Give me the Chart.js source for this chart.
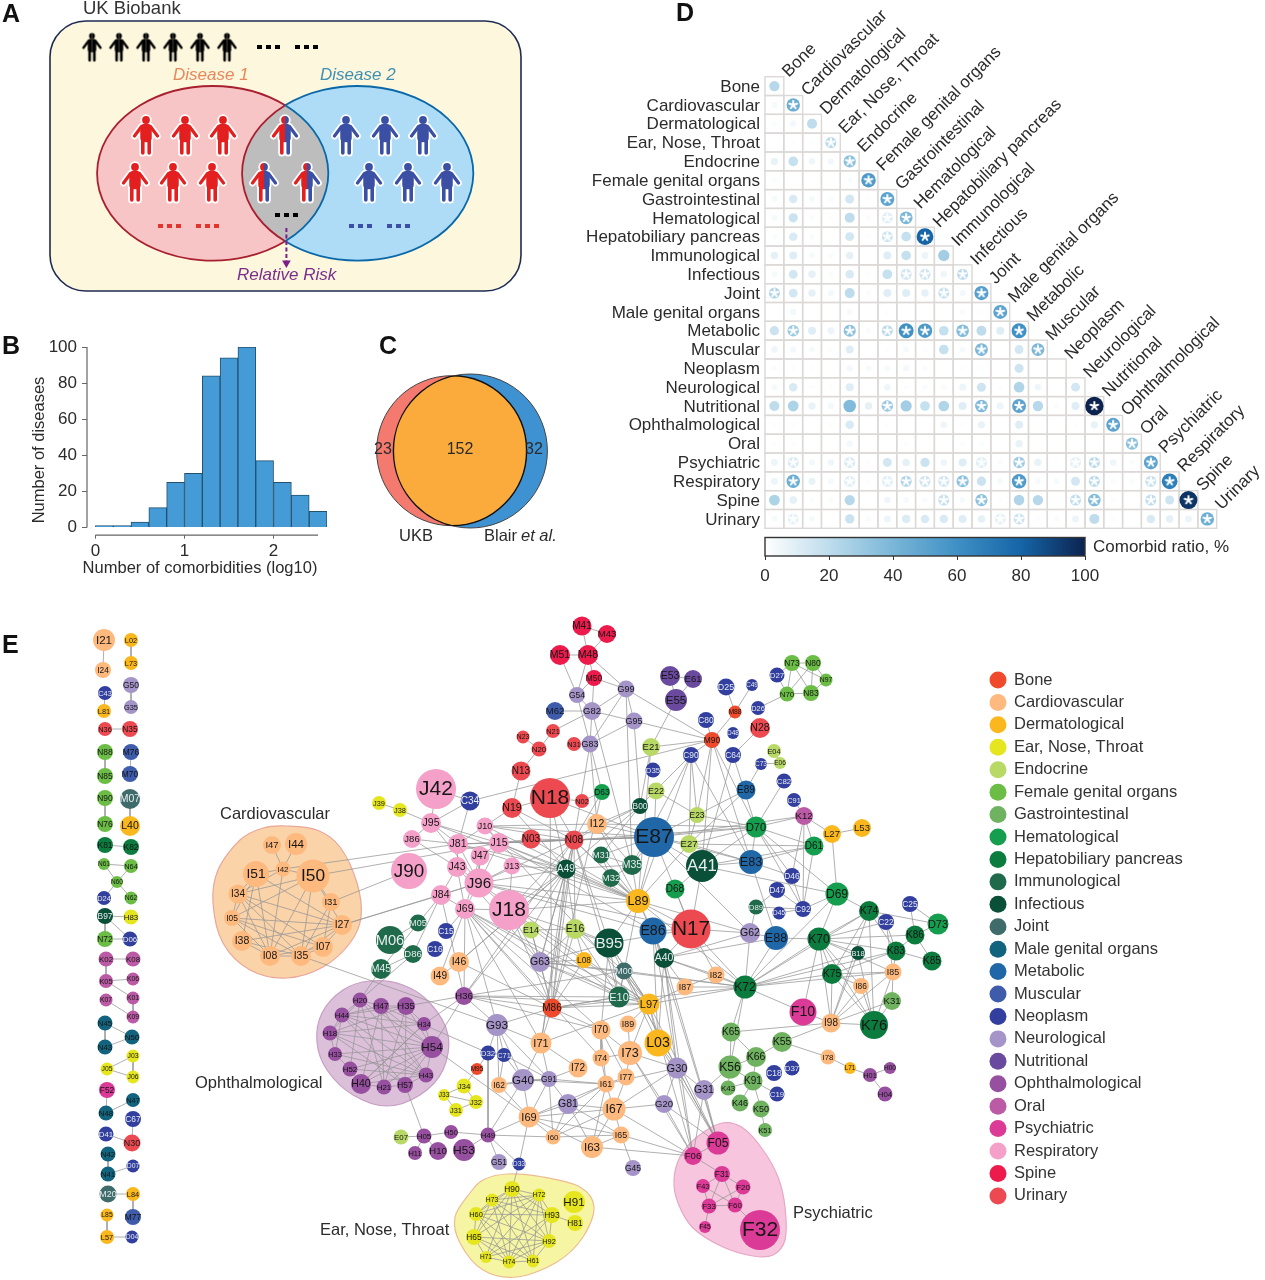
<!DOCTYPE html>
<html>
<head>
<meta charset="utf-8">
<title>Comorbidity figure</title>
<script src="https://cdn.jsdelivr.net/npm/chart.js@4/dist/chart.umd.min.js"></script>
<style>
  html, body { margin: 0; background: #fff; }
  #page { position: relative; width: 1265px; height: 1280px; overflow: hidden; }
  #page canvas { position: absolute; }
</style>
</head>
<body>
<div id="page"></div>
<script>
const FONT = '"Liberation Sans", Arial, sans-serif';
const INK = '#2b2b2b';

// ---- Panel A ----
const generalPeople = [[92,47],[119,47],[146,47],[173,47],[200,47],[227,47]];
const disease1People = [[146,135],[185,135],[223,135],[135,182],[173,182],[212,182]];
const disease2People = [[346,135],[385,135],[423,135],[369,182],[408,182],[447,182]];
const bothPeople = [[285,135],[264,182],[307,182]];

// ---- Panel B ----
const binCenters = [0.1,0.3,0.5,0.7,0.9,1.1,1.3,1.5,1.7,1.9,2.1,2.3,2.5];
const binCounts = [1,1,3,11,25,30,84,94,100,37,25,18,9];
const histXTicks = [0,1,2];
const histYTicks = [0,20,40,60,80,100];

// ---- Panel C ----
const vennCounts = [23,152,32];
const vennCircles = [[451.6,450.7,75],[470.4,451,77]];

// ---- Panel D ----
const systems = ['Bone','Cardiovascular','Dermatological','Ear, Nose, Throat','Endocrine','Female genital organs','Gastrointestinal','Hematological','Hepatobiliary pancreas','Immunological','Infectious','Joint','Male genital organs','Metabolic','Muscular','Neoplasm','Neurological','Nutritional','Ophthalmological','Oral','Psychiatric','Respiratory','Spine','Urinary'];
const comorbidRatio = [
  [22],
  [3,45],
  [2,4,20],
  [0,1,1,22],
  [7,18,5,4,35],
  [2,0,0,0,2,55],
  [3,12,3,2,14,1,50],
  [3,16,2,1,20,2,10,40],
  [2,12,2,0,14,1,16,18,80],
  [8,10,3,2,8,0,10,18,6,28],
  [3,14,8,2,12,1,18,15,15,5,22],
  [25,14,8,4,20,2,10,10,8,18,4,52],
  [0,4,0,0,3,0,1,0,0,0,2,1,50],
  [16,30,10,6,35,2,22,60,55,18,38,20,10,60],
  [5,4,3,1,10,0,1,3,1,18,3,40,0,14,40],
  [2,1,1,0,4,3,3,4,2,0,1,1,0,15,0,0],
  [3,12,1,1,10,0,5,1,2,2,6,15,1,24,5,0,14],
  [20,25,7,4,38,8,30,28,18,24,10,38,6,50,22,2,10,100],
  [1,1,0,1,12,0,1,0,0,5,1,7,0,10,0,0,1,7,50],
  [1,1,0,0,4,0,0,1,0,0,1,1,0,7,0,0,0,0,0,35],
  [6,12,4,5,12,1,14,8,16,5,10,10,2,30,7,1,8,22,5,2,50],
  [6,45,7,3,10,1,10,25,15,15,35,16,3,55,3,3,14,22,2,2,18,68],
  [25,8,2,2,22,0,5,3,2,18,3,35,1,24,22,0,20,38,1,0,20,15,95],
  [3,8,3,0,16,2,6,11,12,12,10,8,8,16,1,2,6,20,1,0,12,8,6,45]
];
// columns with an asterisk, per row
const significantCols = [
  [],[1],[],[3],[4],[5],[6],[6,7],[6,8],[],[7,8,10],[0,9,11],[12],[1,4,6,7,8,10,13],[11,14],[],[],
  [6,11,13,17],[18],[19],[1,4,11,13,16,17,20],[1,4,6,7,8,9,10,13,17,20,21],[9,11,16,17,20,22],[1,12,13,23]
];
const ratioStops = [[0,'#ffffff'],[20,'#bedcec'],[40,'#7ab6d8'],[60,'#3f90c5'],[80,'#1565a7'],[100,'#0c2350']];
const ratioTicks = [0,20,40,60,80,100];

// ---- Panel E: nodes as [code, x, y, radius] ----
const boneNodes = [['M86',552,1008,9.5],['M90',712,740,8],['M88',735,712,6.5],['M95',477,1069,6]];
const cardioNodes = [['I21',104,640,11],['I24',103,670,8],['I47',272,845,9],['I44',296,844,11],['I42',283,869,7.5],['I51',256,874,13],['I50',313,876,16.5],['I34',238,894,9.5],['I31',331,902,9],['I05',232,918,8],['I27',342,925,10],['I38',242,941,10],['I08',270,956,10],['I35',301,956,10],['I07',323,947,10],['I46',459,962,10],['I49',440,976,9.5],['I12',597,824,10],['I82',716,975,8.5],['I85',893,972,8.5],['I86',861,986,8],['I87',685,987,8.5],['I89',628,1024,8.5],['I98',831,1023,9.5],['I70',601,1030,9.5],['I71',541,1043,10.5],['I72',578,1068,9.5],['I73',630,1053,12],['I74',601,1058,8.5],['I77',626,1077,8.5],['I78',828,1057,7.5],['I61',606,1084,8.5],['I62',499,1085,8],['I63',592,1147,11],['I65',621,1135,8.5],['I67',614,1109,11.5],['I69',529,1117,10.5],['I60',553,1137,7.5]];
const dermNodes = [['L02',131,640,7],['L73',131,663,7],['L81',104,711,7],['L40',130,826,10],['L84',133,1194,7],['L85',107,1215,6.5],['L57',107,1237,7],['L08',584,960,8],['L03',658,1043,13.5],['L27',832,834,9],['L53',862,828,9],['L71',850,1068,6],['L89',638,901,12],['L97',649,1004,10.5]];
const entNodes = [['H83',131,917,7.5],['J03',133,1056,6.5],['J05',107,1069,6.5],['J06',133,1077,6.5],['J31',456,1110,7],['J32',476,1102,7],['J33',444,1095,6],['J34',464,1086,7.5],['J38',400,810,7],['J39',379,803,7],['H90',512,1189,8],['H72',539,1195,6.5],['H73',492,1200,6.5],['H91',574,1202,11],['H93',552,1215,8],['H60',476,1214,7],['H81',575,1223,8],['H65',474,1237,8],['H92',549,1241,7],['H71',486,1257,6],['H74',509,1262,6.5],['H61',533,1261,6.5]];
const endocrineNodes = [['E04',774,751,7],['E06',780,763,6],['E07',401,1137,7.5],['E14',531,930,8.5],['E16',575,929,10],['E21',651,747,9],['E22',656,791,8.5],['E23',697,815,8],['E27',689,844,9]];
const femaleNodes = [['N60',117,882,6],['N61',104,864,6],['N62',131,898,6.5],['N64',131,866,7],['N70',787,694,7.5],['N72',105,939,8],['N73',792,663,8],['N76',105,824,8],['N80',813,663,8],['N83',811,693,8],['N85',105,776,8],['N88',105,752,8],['N90',105,798,8],['N97',826,680,6.5]];
const giNodes = [['K31',892,1001,9],['K43',728,1088,7.5],['K46',740,1103,8.5],['K50',761,1109,8.5],['K51',765,1130,7],['K55',782,1042,10],['K56',730,1067,11.5],['K65',731,1032,9.5],['K66',756,1057,10],['K91',753,1081,9.5]];
const hemaNodes = [['D61',814,846,9.5],['D63',602,792,8],['D68',675,889,9.5],['D69',837,894,11.5],['D70',756,827,10.5],['D73',938,924,10.5]];
const hepatoNodes = [['K70',819,939,11.5],['K72',745,987,11.5],['K74',869,911,10],['K75',832,974,10],['K76',874,1025,14],['K81',105,845,8],['K82',131,847,8],['K83',896,951,9.5],['K85',932,961,9.5],['K86',915,935,9.5]];
const immunoNodes = [['M05',418,923,8.5],['M06',390,940,14],['M31',601,855,8.5],['M32',611,878,9],['M35',632,865,10],['M45',381,969,10],['D86',413,954,9],['D89',756,907,7.5],['E10',619,997,10.5]];
const infectiousNodes = [['A40',664,958,10],['A41',702,866,16],['A49',566,869,9.5],['B00',640,806,8],['B18',858,953,7],['B95',609,943,14.5],['B97',105,916,8]];
const jointNodes = [['M00',624,971,8.5],['M07',130,799,10],['M20',108,1194,8.5]];
const maleNodes = [['N41',108,1174,7.5],['N42',108,1154,7.5],['N43',105,1047,7.5],['N45',105,1023,7.5],['N47',133,1100,7],['N48',106,1113,7.5],['N50',132,1037,7.5]];
const metabolicNodes = [['E83',751,862,12],['E86',653,931,13.5],['E87',654,837,20],['E88',776,938,12],['E89',746,790,9.5]];
const muscularNodes = [['M62',555,711,9],['M70',130,774,8],['M76',131,752,8],['M77',133,1217,8]];
const neoplasmNodes = [['C15',446,931,8],['C16',435,949,8],['C18',774,1073,8],['C19',777,1094,7.5],['C22',886,922,8],['C25',910,904,8],['C34',470,801,9.5],['C43',105,693,7],['C49',752,685,6],['C64',733,755,8],['C67',133,1119,8],['C71',504,1055,7],['C73',761,764,6],['C80',706,720,8],['C82',784,781,7.5],['C90',691,755,8],['C91',794,800,7],['C92',803,909,8],['D04',132,1237,6.5],['D06',130,939,7.5],['D07',133,1166,6.5],['D24',104,898,7],['D25',726,687,8.5],['D26',758,708,7],['D27',777,675,7.5],['D32',488,1053,7.5],['D33',519,1164,6.5],['D35',653,770,7.5],['D37',792,1068,7.5],['D41',106,1134,7.5],['D45',779,913,6.5],['D46',792,876,8],['D47',777,890,8],['D48',733,733,6]];
const neuroNodes = [['G20',664,1104,9],['G30',677,1068,10.5],['G31',704,1090,10],['G35',131,707,7],['G40',523,1080,11],['G45',633,1168,8],['G50',131,685,8],['G51',499,1162,8],['G54',577,695,8],['G62',750,933,10],['G63',540,962,10],['G81',568,1104,10],['G82',592,711,9],['G83',590,744,8.5],['G91',549,1079,8],['G93',497,1025,11],['G95',634,721,8.5],['G99',626,689,8.5]];
const nutritionalNodes = [['E53',670,676,10],['E55',676,700,11],['E61',693,679,9]];
const ophthNodes = [['H00',890,1068,6],['H01',870,1075,7],['H04',885,1094,7.5],['H05',424,1136,7.5],['H10',438,1151,9],['H11',415,1153,7],['H18',330,1033,7.5],['H20',360,1000,7.5],['H21',384,1087,7.5],['H33',335,1054,7],['H34',424,1024,7],['H35',406,1006,9],['H36',464,996,9],['H40',361,1084,10],['H43',426,1075,7.5],['H44',342,1015,7.5],['H47',381,1006,8],['H49',488,1135,7.5],['H50',451,1132,7],['H52',350,1069,7.5],['H53',464,1150,11],['H54',432,1047,11],['H57',405,1085,8]];
const oralNodes = [['K01',133,998,6.5],['K02',106,959,7.5],['K05',106,981,7],['K06',133,979,6.5],['K07',106,1000,6.5],['K08',133,959,7.5],['K09',133,1017,6.5],['K12',804,816,9]];
const psychNodes = [['F05',718,1143,11.5],['F06',693,1156,9],['F10',803,1012,13.5],['F20',743,1187,7.5],['F31',722,1174,8],['F32',760,1230,20],['F33',709,1206,7.5],['F43',703,1186,7],['F45',705,1227,6],['F52',107,1090,8],['F60',735,1205,7.5]];
const respNodes = [['J10',485,826,8.5],['J13',512,866,8.5],['J15',499,843,10],['J18',509,910,20],['J42',436,789,20],['J43',457,867,10],['J47',480,856,9.5],['J69',465,909,10],['J81',458,844,10],['J84',441,895,10],['J86',412,839,9],['J90',409,871,18],['J95',431,823,10],['J96',479,883,14.5]];
const spineNodes = [['M41',582,626,9.5],['M43',607,634,9],['M48',588,655,10],['M50',594,678,8],['M51',560,655,10]];
const urinaryNodes = [['N02',582,801,7],['N03',531,839,9.5],['N08',574,840,9.5],['N13',521,771,9.5],['N17',691,929,19.5],['N18',550,798,20],['N19',512,808,10],['N20',539,749,7.5],['N21',553,731,7],['N23',523,737,6.5],['N28',760,728,10],['N30',132,1143,8.5],['N31',574,744,7],['N35',130,729,8],['N36',105,729,7]];

const groupNames = ['Bone','Cardiovascular','Dermatological','Ear, Nose, Throat','Endocrine','Female genital organs','Gastrointestinal','Hematological','Hepatobiliary pancreas','Immunological','Infectious','Joint','Male genital organs','Metabolic','Muscular','Neoplasm','Neurological','Nutritional','Ophthalmological','Oral','Psychiatric','Respiratory','Spine','Urinary'];
const groupColors = ['#ef4a2c','#fdb97e','#fbb81e','#e6e620','#b9d967','#6bbd45','#6fb25f','#159e4e','#0c7c3e','#1f6a4a','#0a4f38','#3f6b6a','#12647e','#2067a8','#3f5cab','#323f9f','#a594c8','#6a4a9f','#96509f','#bb5aa5','#db3a96','#f5a0c8','#ec1b4b','#ec4a50'];
const groupNodes = [boneNodes,cardioNodes,dermNodes,entNodes,endocrineNodes,femaleNodes,giNodes,hemaNodes,hepatoNodes,immunoNodes,infectiousNodes,jointNodes,maleNodes,metabolicNodes,muscularNodes,neoplasmNodes,neuroNodes,nutritionalNodes,ophthNodes,oralNodes,psychNodes,respNodes,spineNodes,urinaryNodes];
const lightLabelGroups = ['Immunological','Infectious','Joint','Neoplasm'];

// ---- Panel E: edges ----
const columnEdges = 'I21-I24 L02-L73 G50-G35 C43-L81 N36-N35 N88-N85 M76-M70 N90-N76 M07-L40 K81-K82 N61-N64 N61-N60 N64-N60 N60-N62 N60-D24 B97-H83 B97-D06 B97-N72 N72-D06 K02-K08 K02-K05 K05-K06 K05-K01 K01-K09 K07-K09 N45-N50 N45-N43 N43-N50 J03-J05 J03-J06 J05-J06 F52-N48 N47-N48 C67-N30 D41-N30 N42-N41 N41-D07 M20-L84 L84-M77 L85-L57 L57-D04'.split(' ');
const cardioEdges = 'I47-I42 I44-I42 I42-I51 I42-I50 I51-I34 I51-I05 I34-I27 I34-I07 I34-I35 I34-I08 I34-I50 I51-I08 I51-I38 I51-I27 I05-I27 I05-I07 I05-I35 I05-I08 I05-I50 I38-I08 I38-I35 I08-I50 I08-I35 I08-I07 I08-I27 I08-I42 I35-I50 I35-I07 I35-I27 I07-I27 I07-I31 I31-I50 I31-I35 I27-I50 I34-I42 I05-I34 I38-I27 I42-J81 I50-J15 I31-J90 I27-J84 I27-J96 I35-G93'.split(' ');
const ophthEdges = 'H20-H44 H20-H47 H20-H18 H20-H54 H20-H52 H20-H43 H20-H21 H47-H35 H47-H44 H47-H54 H47-H40 H47-H21 H47-H43 H35-H34 H35-H54 H35-H44 H35-H18 H35-H57 H35-H21 H44-H18 H44-H54 H44-H33 H44-H43 H44-H57 H44-H34 H34-H54 H34-H18 H34-H40 H18-H33 H18-H54 H18-H43 H18-H57 H33-H52 H33-H54 H33-H43 H52-H40 H52-H54 H52-H43 H40-H21 H40-H54 H40-H43 H40-H34 H21-H57 H21-H54 H57-H43 H57-H54 H43-H54 H20-M45 H20-D86 H35-H36 H34-H36 H57-H05 H54-I69 H54-H36 H47-D32'.split(' ');
const entEdges = 'H90-H72 H90-H73 H90-H60 H90-H65 H90-H93 H90-H92 H90-H74 H90-H71 H90-H61 H72-H73 H72-H93 H72-H60 H72-H65 H72-H92 H72-H74 H72-H61 H72-H71 H73-H60 H73-H65 H73-H93 H73-H92 H73-H74 H73-H61 H60-H65 H60-H92 H60-H61 H60-H74 H60-H93 H65-H71 H65-H74 H65-H61 H65-H92 H71-H74 H71-H92 H71-H93 H74-H61 H74-H92 H74-H93 H61-H92 H92-H93 H93-H81 D33-H90'.split(' ');
const psychEdges = 'F05-F06 F06-F31 F31-F43 F31-F20 F31-F33 F31-F60 F43-F33 F20-F60 F20-F33 F33-F60 F33-F45 F60-F32 F43-F60 G30-F05 G30-F06 L03-F05 L97-F05 L97-F06 G31-F05 G31-F06 G20-F06 G20-F05 I67-F06 I65-F06 I63-F06 I73-F06 M00-F05 E86-F05 A40-F05 A40-F06 G45-I65'.split(' ');
const respEdges = 'J39-J38 J38-J95 J95-J86 J95-J42 J95-C34 J95-J81 J95-J15 J86-J81 J81-J10 J81-J15 J81-J43 J43-J96 J81-J96 J10-J15 J15-J47 J15-J96 J47-J96 J13-J96 J96-J18 J96-J84 J96-J69 J43-J84 J84-J69 J69-J18 J84-D86 J84-M45 C34-J42 C34-J81 J86-J43 J47-J69 J43-J69 J15-N03 J15-A49 J13-A49 J13-J18 J96-A49 J96-N08 J81-N08 J10-N08 J15-N08 J10-N19 M06-M05 M06-D86 D86-M45 C15-J69 I46-I49 H36-J69 H36-I70'.split(' ');
const upperEdges = 'M41-M43 M41-M48 M43-M48 M51-M48 M51-G54 M48-M50 M48-G54 M48-G99 M50-G54 M50-G82 M50-G99 G54-G82 G99-G82 G99-G95 G99-G83 G99-M90 G99-M35 G82-M62 G82-G95 G82-G83 G82-N21 G82-M35 G95-G83 G95-M90 G95-B00 G83-N31 G83-I12 G83-N08 G83-D63 G54-G83 N21-N20 N23-N20 N20-N13 N13-N19 N19-N18 N18-N02 N18-N08 N02-D63 E53-E55 E61-E55 E53-E61 E55-E21 D25-M88 C49-M88 M88-M90 C80-M90 D26-N70 D27-N73 N73-N80 N73-N70 N73-N83 N80-N83 N80-N97 N80-N70 N97-N83 N70-N83 N97-N73 D27-N70 M90-E21 M90-C90 M90-C34 M90-E23 M90-D70 M90-E83 M90-A41 C64-N28 C64-D70 C64-A41 C73-E89 E04-E06 C73-E06 C82-D70 C91-K12 K12-D70 K12-L27 L27-L53 L27-D69 K12-D61 K12-C92 K12-D46 D61-D70 D61-A41 D61-E83 D61-E27 D61-C92 D46-D70 D46-C92 D46-E83 D70-E27 D70-A41 D70-E23 D70-E83 D70-E87 D70-D69 D70-C92 E23-E27 E23-E87 E23-C90 E23-E22 E23-E89 E27-E87 E27-E83 E27-L89 E22-E87 E21-L89 E21-B00 C90-E83 C90-E27 C90-B00 C90-M35 C90-L89 E89-E27 A41-E87 A41-E83 A41-D69 A41-N17 E87-L89 E87-I12 E87-N08 E87-M35 E87-M31 E87-N17 E87-G62 E87-E83 B00-I12 B00-N08 B00-A49 B00-M31 I12-N08 I12-M35 D68-A41 L89-N17 L89-E86 L89-E10 L89-B95 L89-M32 L89-M35 L89-G62 L89-A40 L89-K72 L89-M31 L89-I12 L89-N08 N03-N08 N19-N08 N18-A49 N08-A49 N08-J18 N08-B95 N08-L89 N08-M86 N08-E16 N08-E10 N08-G63 A49-J18 A49-E14 A49-E16 A49-G63 A49-M86 A49-I46 A49-L89 A49-M35 M35-M32 M31-M32 M31-M35 M32-L89 D47-C92 D45-C92 D89-C92 D47-D89 D89-G62'.split(' ');
const liverEdges = 'D69-K70 D69-K74 D69-C92 D69-K72 K74-K70 K74-K75 K74-K83 K74-C22 K74-D73 K74-I98 K74-K76 C25-K86 C25-D73 D73-K86 C22-K83 C22-I85 C22-K70 K86-K83 K86-K70 K83-K85 K83-K70 K83-I85 K83-K75 K85-K86 I85-K75 I85-K31 I85-K76 I85-I98 I85-K72 I86-K76 I86-I98 I86-K70 K70-K72 K70-K75 K70-I98 K70-K76 K70-E88 K70-F10 K70-I85 K75-K72 K75-I98 K75-K76 K75-I86 B18-K72 B18-I98 B18-K70 B18-K76 K31-K76 K31-I98 K76-I98 F10-I98 F10-K72 I98-K55 I98-K65 K72-E88 K72-G62 K72-A40 K72-N17 K72-I82 K72-I87 K72-K65 K72-K56 K72-K74 K72-K83 E88-G62 E88-A40 E88-E83 G62-A40 G62-N17 K65-K66 K65-K56 K56-K66 K56-K91 K56-K43 K56-G31 K66-K55 K66-K91 K55-I78 I78-L71 L71-H01 H01-H00 H01-H04 K91-K43 K91-K46 K91-K50 K91-C19 K50-K51'.split(' ');
const lowerEdges = 'I71-G93 I71-M86 I71-I72 I71-G40 I71-G91 I70-M86 I70-I74 I70-I73 I70-I77 I70-I61 I89-I73 I89-L97 I73-L97 I73-I77 I73-I74 L97-L03 L97-E10 L97-I87 L97-K72 L97-B95 L97-M00 I87-I82 I82-A40 I87-A40 M00-G63 M00-K72 M00-L97 M00-E10 E10-G63 E10-M86 E10-B95 E10-E16 M86-G63 M86-E16 M86-L08 M86-H36 M86-G93 M86-I46 I46-A49 I49-J69 I74-I61 I72-G91 I77-I61 I77-I67 I61-I67 I61-I69 I61-G81 I61-I60 I61-I63 I61-G91 I61-G40 G91-G81 G91-G40 G91-I69 G91-I62 G91-C71 G91-I60 G40-I62 G40-I69 G40-C71 G40-G93 G40-H49 G81-I67 G81-I69 G81-I60 G81-I63 G81-I65 I67-I69 I67-I60 I67-I65 I67-I63 I67-G20 I65-I63 I65-I60 I65-I69 I63-I69 I60-I69 I60-H49 I69-D33 I69-H49 I69-I62 G93-C71 G93-D32 G93-I62 G93-H36 G93-G91 C71-I62 C71-D32 M95-J34 M95-D32 J34-J33 J34-J32 J33-J31 J31-J32 J33-J32 H49-H50 H50-H05 H05-E07 H05-H11 H05-H10 H49-H53 H49-G51 H49-D33 D32-H49 G30-G20 G30-G31 G30-L03 G30-I73 G30-M00 G30-A40 G30-E86 G30-I67 G30-I61 G20-I73 J69-M86 J69-I71 J69-G63 J69-L97 J69-I70 J69-I74 J69-E10 J69-G93 J18-M86 J18-L97 J18-E14 J18-B95 J18-E10 J18-G63 J18-L89 J96-L97 J96-E86 J96-L89 J96-N17 J15-L89 J15-E86 J10-L89 J81-L89 J84-H36 J43-G63 A49-I71 A49-H36 N08-H36 N08-I71 N18-M86 N03-L89 D63-N08 D63-M86 E14-E16 E14-G63 E16-G63 E16-L08 G63-L08 E16-B95 B95-N17 B95-G63 B95-L97 B95-I70 B95-L03 E86-L03 E86-N17 E86-A40 N17-A40 N17-I82 N17-D68 A40-L03'.split(' ');
const crossEdges = 'H36-E10 H36-M00 H36-L97 M86-K72 M86-L97 M86-E10 G63-K72 E16-M00 G63-L97 E14-M86 I71-L97 J10-E87 J15-E87 J81-E87 J10-I12 N08-E87 N08-D70 I12-D70 E87-K12 N18-E87 N19-A49 J95-L89 J95-J96 J81-A49 J10-L97'.split(' ');
const allEdges = [...columnEdges,...cardioEdges,...ophthEdges,...entEdges,...psychEdges,...respEdges,...upperEdges,...liverEdges,...lowerEdges,...crossEdges];

// ---- Panel E: shaded cluster outlines ----
const cardioHull = [[287,826],[317,830],[340,847],[357,883],[361,917],[350,943],[323,967],[287,978],[250,970],[223,943],[213,903],[218,870],[240,840],[263,828]];
const ophthHull = [[370,981],[403,985],[430,1003],[448,1035],[443,1070],[420,1095],[387,1106],[353,1095],[327,1070],[317,1042],[322,1013],[343,990]];
const entHull = [[507,1174],[543,1177],[580,1187],[594,1207],[583,1237],[557,1262],[517,1277],[483,1270],[460,1243],[455,1217],[470,1193],[483,1180]];
const psychHull = [[722,1123],[743,1128],[763,1150],[778,1177],[785,1207],[785,1240],[773,1255],[753,1256],[723,1247],[693,1228],[678,1203],[674,1180],[680,1157],[697,1137]];

// ---- helpers ----
function addCanvas(left, top, w, h) {
  const c = document.createElement('canvas');
  c.width = w; c.height = h;
  c.style.left = left + 'px'; c.style.top = top + 'px';
  document.getElementById('page').appendChild(c);
  return c;
}
function pageScales(left, top, w, h) {
  return {
    x: { type: 'linear', display: false, min: left, max: left + w },
    y: { type: 'linear', display: false, min: top, max: top + h, reverse: true }
  };
}
const baseOptions = {
  responsive: false, animation: false, events: [],
  plugins: { legend: { display: false }, tooltip: { enabled: false } }
};
// text laid over a chart, in page coordinates of the given canvas offset
function notesPlugin(list, left, top) {
  return {
    id: 'notes',
    afterDraw(chart) {
      const ctx = chart.ctx;
      list.forEach(n => {
        ctx.save();
        ctx.translate(n.x - left, n.y - top);
        if (n.rotate) ctx.rotate(n.rotate);
        ctx.font = n.font || '16px ' + FONT;
        ctx.fillStyle = n.color || INK;
        ctx.textAlign = n.align || 'left';
        ctx.textBaseline = 'middle';
        ctx.fillText(n.text, 0, 0);
        ctx.restore();
      });
    }
  };
}
function panelLetter(text, x, y) {
  return { text, x, y, font: 'bold 25px ' + FONT, color: '#111' };
}
function dashLine(x0, x1, y, color) {
  return { type: 'line', data: [{x:x0,y},{x:x1,y}], borderColor: color, borderWidth: 4, borderDash: [5,4], pointRadius: 0, order: 2 };
}
function personImage(leftColor, rightColor, s, halo) {
  const c = document.createElement('canvas');
  c.width = Math.ceil(36 * s); c.height = Math.ceil(50 * s);
  const g = c.getContext('2d');
  g.translate(c.width / 2, c.height / 2);
  g.scale(s, s);
  g.lineCap = 'round'; g.lineJoin = 'round';
  const shape = (extra, color) => {
    g.strokeStyle = color; g.fillStyle = color;
    g.beginPath(); g.arc(0, -15, 3.9 + extra / 2, 0, Math.PI * 2); g.fill();
    g.lineWidth = 3.2 + extra;
    g.beginPath(); g.moveTo(-4.5, -8.5); g.lineTo(-11.5, 1); g.moveTo(4.5, -8.5); g.lineTo(11.5, 1); g.stroke();
    g.lineWidth = 8.5 + extra;
    g.beginPath(); g.moveTo(-1.5, -7); g.lineTo(-1.5, 3); g.moveTo(1.5, -7); g.lineTo(1.5, 3); g.stroke();
    g.lineWidth = 3.6 + extra;
    g.beginPath(); g.moveTo(-3.2, 3); g.lineTo(-3.2, 18); g.moveTo(3.2, 3); g.lineTo(3.2, 18); g.stroke();
  };
  if (halo) shape(3.6, '#ffffff');
  g.save(); g.beginPath(); g.rect(-20, -30, 20, 60); g.clip(); shape(0, leftColor); g.restore();
  g.save(); g.beginPath(); g.rect(0, -30, 20, 60); g.clip(); shape(0, rightColor); g.restore();
  return c;
}
function pts(list) { return list.map(p => ({ x: p[0], y: p[1] })); }

// ---- Panel A ----
(function () {
  const W = 565, H = 300;
  const L = { x: 212.7, y: 173.3 }, R = { x: 357.7, y: 173.3 }, rx = 115.6, ry = 87.3;
  const cut = Math.acos(72.5 / rx);
  const vennPlugin = {
    id: 'vennA',
    beforeDatasetsDraw(chart) {
      const ctx = chart.ctx;
      ctx.save();
      ctx.beginPath();
      ctx.roundRect(50, 21, 471, 270, 36);
      ctx.fillStyle = '#fdf7de'; ctx.fill();
      ctx.strokeStyle = '#1e2a52'; ctx.lineWidth = 1.6; ctx.stroke();
      ctx.beginPath(); ctx.ellipse(L.x, L.y, rx, ry, 0, 0, Math.PI * 2); ctx.fillStyle = '#f8c5c6'; ctx.fill();
      ctx.beginPath(); ctx.ellipse(R.x, R.y, rx, ry, 0, 0, Math.PI * 2); ctx.fillStyle = '#aedcf6'; ctx.fill();
      ctx.save();
      ctx.beginPath(); ctx.ellipse(L.x, L.y, rx, ry, 0, 0, Math.PI * 2); ctx.clip();
      ctx.beginPath(); ctx.ellipse(R.x, R.y, rx, ry, 0, 0, Math.PI * 2); ctx.fillStyle = '#bdbdbd'; ctx.fill();
      ctx.restore();
      ctx.lineWidth = 1.8;
      ctx.strokeStyle = '#a8202f';
      ctx.beginPath(); ctx.ellipse(L.x, L.y, rx, ry, 0, cut, Math.PI * 2 - cut); ctx.stroke();
      ctx.beginPath(); ctx.ellipse(R.x, R.y, rx, ry, 0, Math.PI - cut, Math.PI + cut); ctx.stroke();
      ctx.strokeStyle = '#0a68a8';
      ctx.beginPath(); ctx.ellipse(R.x, R.y, rx, ry, 0, -Math.PI + cut, Math.PI - cut); ctx.stroke();
      ctx.beginPath(); ctx.ellipse(L.x, L.y, rx, ry, 0, -cut, cut); ctx.stroke();
      ctx.restore();
    }
  };
  const people = (list, img) => ({ type: 'scatter', data: pts(list), pointStyle: img, order: 1 });
  new Chart(addCanvas(0, 0, W, H), {
    type: 'scatter',
    data: { datasets: [
      people(generalPeople, personImage('#000', '#000', 0.74, false)),
      people(disease1People, personImage('#e3201f', '#e3201f', 1, true)),
      people(disease2People, personImage('#3b50a4', '#3b50a4', 1, true)),
      people(bothPeople, personImage('#e3201f', '#3b50a4', 1, true)),
      dashLine(257, 282, 47, '#000'), dashLine(295, 319, 47, '#000'),
      dashLine(158, 183, 226, '#e3342f'), dashLine(196, 221, 226, '#e3342f'),
      dashLine(349, 374, 226, '#3b50a4'), dashLine(387, 412, 226, '#3b50a4'),
      dashLine(275, 299, 215, '#000'),
      { type: 'line', data: [{x:286.4,y:228},{x:286.4,y:262}], borderColor: '#7b1f8b', borderWidth: 2, borderDash: [4,2.5], pointRadius: 0, order: 2 },
      { type: 'scatter', data: [{x:286.4,y:263}], pointStyle: 'triangle', pointRadius: 5, rotation: 180, pointRotation: 180, backgroundColor: '#7b1f8b', borderWidth: 0, order: 1 }
    ] },
    options: { ...baseOptions, layout: { autoPadding: false }, scales: pageScales(0, 0, W, H) },
    plugins: [vennPlugin, notesPlugin([
      panelLetter('A', 2, 15),
      { text: 'UK Biobank', x: 83, y: 9, font: '18.5px ' + FONT, color: '#333' },
      { text: 'Disease 1', x: 173, y: 75, font: 'italic 17px ' + FONT, color: '#e8875a' },
      { text: 'Disease 2', x: 320, y: 75, font: 'italic 17px ' + FONT, color: '#3f8fb0' },
      { text: 'Relative Risk', x: 237, y: 275, font: 'italic 17px ' + FONT, color: '#7b2d8b' }
    ], 0, 0)]
  });
})();

// ---- Panel B ----
(function () {
  const left = 0, top = 330, W = 345, H = 250;
  const axesPlugin = {
    id: 'histAxes',
    afterDraw(chart) {
      const ctx = chart.ctx, sx = chart.scales.x, sy = chart.scales.y;
      ctx.save();
      ctx.strokeStyle = '#666'; ctx.lineWidth = 1.2;
      ctx.beginPath();
      ctx.moveTo(sx.left + 0.5, sy.getPixelForValue(0)); ctx.lineTo(sx.left + 0.5, sy.getPixelForValue(100));
      ctx.moveTo(sx.getPixelForValue(0), sy.bottom + 0.5); ctx.lineTo(sx.getPixelForValue(2.5), sy.bottom + 0.5);
      ctx.stroke();
      ctx.restore();
    }
  };
  new Chart(addCanvas(left, top, W, H), {
    type: 'bar',
    data: { datasets: [{
      data: binCenters.map((x, i) => ({ x, y: binCounts[i] })),
      backgroundColor: '#459bd6', borderColor: '#24506e', borderWidth: 1,
      barPercentage: 1, categoryPercentage: 1
    }] },
    options: {
      ...baseOptions,
      layout: { autoPadding: false, padding: { top: 17, right: 18 } },
      scales: {
        x: {
          type: 'linear', min: -0.1, max: 2.6, offset: false,
          afterFit(s) { s.height = 45.3; s.paddingLeft = 0; s.paddingRight = 0; },
          afterBuildTicks(s) { s.ticks = histXTicks.map(value => ({ value })); },
          grid: { offset: false, drawOnChartArea: false, tickLength: 4, color: '#666' }, border: { display: false },
          ticks: { autoSkip: false, maxRotation: 0, padding: 2, color: INK, font: { family: FONT, size: 17 } }
        },
        y: {
          min: -4, max: 100,
          afterFit(s) { s.width = 86.5; s.paddingTop = 0; s.paddingBottom = 0; },
          afterBuildTicks(s) { s.ticks = histYTicks.map(value => ({ value })); },
          grid: { drawOnChartArea: false, tickLength: 4.5, color: '#666' }, border: { display: false },
          ticks: { padding: 5, color: INK, font: { family: FONT, size: 17 } }
        }
      }
    },
    plugins: [axesPlugin, notesPlugin([
      panelLetter('B', 2, 347),
      { text: 'Number of diseases', x: 39, y: 450, rotate: -Math.PI / 2, align: 'center', font: '16.5px ' + FONT },
      { text: 'Number of comorbidities (log10)', x: 200, y: 568, align: 'center', font: '16.5px ' + FONT }
    ], left, top)]
  });
})();

// ---- Panel C ----
(function () {
  const left = 345, top = 330, W = 235, H = 250;
  const lensPlugin = {
    id: 'vennC',
    afterDatasetsDraw(chart) {
      const ctx = chart.ctx, sx = chart.scales.x, sy = chart.scales.y;
      const circle = c => { ctx.beginPath(); ctx.arc(sx.getPixelForValue(c[0]), sy.getPixelForValue(c[1]), c[2], 0, Math.PI * 2); };
      ctx.save();
      circle(vennCircles[0]); ctx.clip();
      circle(vennCircles[1]); ctx.fillStyle = '#fbab3c'; ctx.fill();
      ctx.restore();
      ctx.save();
      ctx.lineWidth = 1.4; ctx.strokeStyle = '#111';
      ctx.save(); circle(vennCircles[0]); ctx.clip(); circle(vennCircles[1]); ctx.stroke(); ctx.restore();
      ctx.save(); circle(vennCircles[1]); ctx.clip(); circle(vennCircles[0]); ctx.stroke(); ctx.restore();
      ctx.restore();
    }
  };
  const bubble = (c, color, order) => ({ data: [{ x: c[0], y: c[1], r: c[2] }], backgroundColor: color, borderColor: '#444', borderWidth: 1, order });
  new Chart(addCanvas(left, top, W, H), {
    type: 'bubble',
    data: { datasets: [bubble(vennCircles[1], '#3f92d2', 2), bubble(vennCircles[0], '#f47a6f', 1)] },
    options: { ...baseOptions, layout: { autoPadding: false }, scales: pageScales(left, top, W, H) },
    plugins: [lensPlugin, notesPlugin([
      panelLetter('C', 379, 347),
      { text: String(vennCounts[0]), x: 383, y: 450, align: 'center', font: '16px ' + FONT },
      { text: String(vennCounts[1]), x: 460, y: 450, align: 'center', font: '16px ' + FONT },
      { text: String(vennCounts[2]), x: 534, y: 450, align: 'center', font: '16px ' + FONT },
      { text: 'UKB', x: 416, y: 536, align: 'center', font: '16.5px ' + FONT },
      { text: 'Blair ', x: 484, y: 536, font: '16.5px ' + FONT },
      { text: 'et al.', x: 521, y: 536, font: 'italic 16.5px ' + FONT }
    ], left, top)]
  });
})();

// ---- Panel D ----
function ratioColor(v) {
  const hex = s => [1, 3, 5].map(i => parseInt(s.substr(i, 2), 16));
  for (let i = 1; i < ratioStops.length; i++) {
    if (v <= ratioStops[i][0]) {
      const t = (v - ratioStops[i - 1][0]) / (ratioStops[i][0] - ratioStops[i - 1][0]);
      const a = hex(ratioStops[i - 1][1]), b = hex(ratioStops[i][1]);
      return 'rgb(' + a.map((c, k) => Math.round(c + (b[k] - c) * t)).join(',') + ')';
    }
  }
  return ratioStops[ratioStops.length - 1][1];
}
function asteriskImage() {
  const c = document.createElement('canvas');
  c.width = 12; c.height = 12;
  const g = c.getContext('2d');
  g.translate(6, 6);
  g.strokeStyle = '#fff'; g.lineWidth = 2; g.lineCap = 'round';
  for (let i = 0; i < 5; i++) {
    const a = -Math.PI / 2 + i * 2 * Math.PI / 5;
    g.beginPath(); g.moveTo(0, 0); g.lineTo(Math.cos(a) * 4, Math.sin(a) * 4); g.stroke();
  }
  return c;
}
(function () {
  const left = 580, top = 0, W = 685, H = 600;
  const n = systems.length;
  const circles = [], stars = [];
  comorbidRatio.forEach((row, r) => row.forEach((v, c) => {
    const star = significantCols[r].includes(c);
    if (v > 0) {
      let radius = 1.6 + 0.76 * Math.sqrt(v);
      if (star) radius = Math.max(5.5, radius);
      circles.push({ x: c + 0.5, y: r + 0.5, r: radius, v });
    }
    if (star) stars.push({ x: c + 0.5, y: r + 0.5, r: 5 });
  }));
  const gridPlugin = {
    id: 'triangle',
    beforeDatasetsDraw(chart) {
      const ctx = chart.ctx, sx = chart.scales.x, sy = chart.scales.y;
      ctx.save();
      ctx.strokeStyle = '#dbd8d6'; ctx.lineWidth = 1.4;
      comorbidRatio.forEach((row, r) => row.forEach((v, c) => {
        const x0 = sx.getPixelForValue(c), x1 = sx.getPixelForValue(c + 1);
        const y0 = sy.getPixelForValue(r), y1 = sy.getPixelForValue(r + 1);
        ctx.strokeRect(x0, y0, x1 - x0, y1 - y0);
      }));
      ctx.restore();
    },
    afterDraw(chart) {
      const ctx = chart.ctx, sx = chart.scales.x, sy = chart.scales.y;
      ctx.save();
      ctx.font = '17px ' + FONT; ctx.fillStyle = INK;
      ctx.textAlign = 'left'; ctx.textBaseline = 'alphabetic';
      systems.forEach((name, i) => {
        ctx.save();
        ctx.translate(sx.getPixelForValue(i + 1) + 5, sy.getPixelForValue(i) + 1);
        ctx.rotate(-Math.PI / 4);
        ctx.fillText(name, 0, 0);
        ctx.restore();
      });
      ctx.restore();
    }
  };
  new Chart(addCanvas(left, top, W, H), {
    type: 'bubble',
    data: { datasets: [
      { data: circles, backgroundColor: ctx => ratioColor(ctx.raw ? ctx.raw.v : 0), borderWidth: 0, order: 2 },
      { data: stars, pointStyle: asteriskImage(), order: 1 }
    ] },
    options: {
      ...baseOptions,
      layout: { autoPadding: false, padding: { top: 76.7, right: 48.3, bottom: 71.7 } },
      scales: {
        x: { type: 'linear', display: false, min: 0, max: n },
        y: {
          type: 'linear', min: 0, max: n, reverse: true,
          afterFit(s) { s.width = 185; s.paddingTop = 0; s.paddingBottom = 0; },
          afterBuildTicks(s) { s.ticks = systems.map((_, i) => ({ value: i + 0.5 })); },
          grid: { display: false, drawTicks: false }, border: { display: false },
          ticks: { autoSkip: false, padding: 5, labelOffset: 1, color: INK, font: { family: FONT, size: 17 },
            callback: v => systems[Math.floor(v)] }
        }
      }
    },
    plugins: [gridPlugin, notesPlugin([
      panelLetter('D', 676, 14),
      { text: 'Comorbid ratio, %', x: 1093, y: 547, font: '17px ' + FONT }
    ], left, top)]
  });
})();

// colour bar for panel D
(function () {
  const barPlugin = {
    id: 'ratioBar',
    beforeDatasetsDraw(chart) {
      const ctx = chart.ctx, a = chart.chartArea;
      const grad = ctx.createLinearGradient(a.left, 0, a.right, 0);
      ratioStops.forEach(s => grad.addColorStop(s[0] / 100, s[1]));
      ctx.save();
      ctx.fillStyle = grad; ctx.fillRect(a.left, a.top, a.right - a.left, a.bottom - a.top);
      ctx.strokeStyle = '#333'; ctx.lineWidth = 1.4; ctx.strokeRect(a.left, a.top, a.right - a.left, a.bottom - a.top);
      ctx.restore();
    }
  };
  new Chart(addCanvas(755, 530, 345, 60), {
    type: 'scatter',
    data: { datasets: [{ data: [] }] },
    options: {
      ...baseOptions,
      layout: { autoPadding: false, padding: { top: 7.5, left: 10, right: 15 } },
      scales: {
        x: {
          type: 'linear', min: 0, max: 100,
          afterFit(s) { s.height = 34; s.paddingLeft = 0; s.paddingRight = 0; },
          afterBuildTicks(s) { s.ticks = ratioTicks.map(value => ({ value })); },
          grid: { drawOnChartArea: false, tickLength: 4, color: '#333' }, border: { display: false },
          ticks: { autoSkip: false, maxRotation: 0, padding: 6, color: INK, font: { family: FONT, size: 17 } }
        },
        y: { display: false }
      }
    },
    plugins: [barPlugin]
  });
})();

// ---- Panel E ----
(function () {
  const left = 0, top = 600, W = 1265, H = 680;
  const where = {};
  groupNodes.forEach(list => list.forEach(n => { where[n[0]] = n; }));
  const edgeData = [];
  allEdges.forEach(e => {
    const [a, b] = e.split('-');
    if (!where[a] || !where[b]) return;
    edgeData.push({ x: where[a][1], y: where[a][2] }, { x: where[b][1], y: where[b][2] }, { x: NaN, y: NaN });
  });
  const hulls = [
    [cardioHull, '#fbd3a9', '#e9a79a'],
    [ophthHull, '#dcc0da', '#c79fc4'],
    [entHull, '#f6f5a3', '#ecbd92'],
    [psychHull, '#f7c6de', '#e5a8c6']
  ];
  const hullPlugin = {
    id: 'hulls',
    beforeDatasetsDraw(chart) {
      const ctx = chart.ctx, sx = chart.scales.x, sy = chart.scales.y;
      hulls.forEach(([points, fill, line]) => {
        const p = points.map(q => [sx.getPixelForValue(q[0]), sy.getPixelForValue(q[1])]);
        const m = p.length;
        ctx.beginPath();
        ctx.moveTo(p[0][0], p[0][1]);
        for (let i = 0; i < m; i++) {
          const p0 = p[(i - 1 + m) % m], p1 = p[i], p2 = p[(i + 1) % m], p3 = p[(i + 2) % m];
          ctx.bezierCurveTo(p1[0] + (p2[0] - p0[0]) / 6, p1[1] + (p2[1] - p0[1]) / 6,
            p2[0] - (p3[0] - p1[0]) / 6, p2[1] - (p3[1] - p1[1]) / 6, p2[0], p2[1]);
        }
        ctx.closePath();
        ctx.fillStyle = fill; ctx.fill();
        ctx.strokeStyle = line; ctx.lineWidth = 1.2; ctx.stroke();
      });
    }
  };
  const labelPlugin = {
    id: 'nodeLabels',
    afterDatasetsDraw(chart) {
      const ctx = chart.ctx;
      ctx.save();
      ctx.textAlign = 'center'; ctx.textBaseline = 'middle';
      groupNodes.forEach((list, g) => {
        const meta = chart.getDatasetMeta(g);
        ctx.fillStyle = lightLabelGroups.includes(groupNames[g]) ? '#e8eef0' : '#161616';
        list.forEach((n, i) => {
          const el = meta.data[i];
          ctx.font = Math.max(6.5, n[3] * 1.05).toFixed(1) + 'px ' + FONT;
          ctx.fillText(n[0], el.x, el.y + 0.5);
        });
      });
      ctx.restore();
    },
    afterDraw(chart) {
      const ctx = chart.ctx;
      ctx.save();
      ctx.textBaseline = 'middle';
      ctx.font = '16.5px ' + FONT;
      groupNames.forEach((name, i) => {
        const y = 680 + i * 22.43 - top;
        ctx.beginPath(); ctx.arc(998, y, 8.5, 0, Math.PI * 2);
        ctx.fillStyle = groupColors[i]; ctx.fill();
        ctx.fillStyle = '#333';
        ctx.fillText(name, 1014, y);
      });
      ctx.restore();
    }
  };
  const datasets = groupNodes.map((list, g) => ({
    label: groupNames[g],
    data: list.map(n => ({ x: n[1], y: n[2], r: n[3] })),
    backgroundColor: groupColors[g], borderWidth: 0, order: 1
  }));
  datasets.push({ type: 'line', data: edgeData, borderColor: 'rgba(150,150,150,0.75)', borderWidth: 1, pointRadius: 0, tension: 0, spanGaps: false, order: 5 });
  new Chart(addCanvas(left, top, W, H), {
    type: 'bubble',
    data: { datasets },
    options: { ...baseOptions, layout: { autoPadding: false }, scales: pageScales(left, top, W, H) },
    plugins: [hullPlugin, labelPlugin, notesPlugin([
      panelLetter('E', 2, 646),
      { text: 'Cardiovascular', x: 220, y: 814, font: '16.5px ' + FONT },
      { text: 'Ophthalmological', x: 195, y: 1083, font: '16.5px ' + FONT },
      { text: 'Ear, Nose, Throat', x: 320, y: 1230, font: '16.5px ' + FONT },
      { text: 'Psychiatric', x: 793, y: 1213, font: '16.5px ' + FONT }
    ], left, top)]
  });
})();
</script>
</body>
</html>
